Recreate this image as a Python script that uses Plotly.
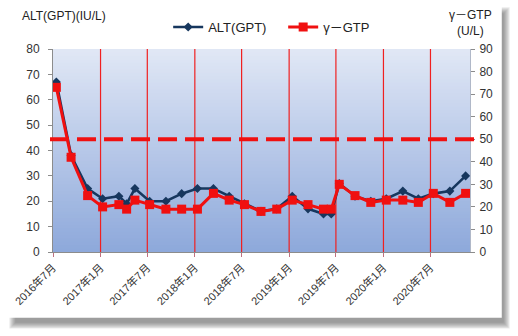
import plotly.graph_objects as go

# Measurement dates
dates = [
    "2016-07-14", "2016-09-09", "2016-11-12", "2017-01-09", "2017-03-13",
    "2017-04-12", "2017-05-14", "2017-07-10", "2017-09-11", "2017-11-11",
    "2018-01-11", "2018-03-14", "2018-05-14", "2018-07-12", "2018-09-14",
    "2018-11-14", "2019-01-13", "2019-03-15", "2019-05-14", "2019-06-13",
    "2019-07-14", "2019-09-13", "2019-11-13", "2020-01-12", "2020-03-16",
    "2020-05-15", "2020-07-12", "2020-09-14", "2020-11-14",
]
# ALT(GPT) IU/L  (left axis)
alt = [67, 38, 25, 21, 22, 19, 25, 20, 20, 23,
       25, 25, 22, 19, 16, 17, 22, 17, 15, 15,
       27, 22, 20, 21, 24, 21, 23, 24, 30]
# γ-GTP U/L  (right axis)
gtp = [73, 42, 25, 20, 21, 19, 23, 21, 19, 19,
       19, 26, 23, 21, 18, 19, 23, 21, 19, 19,
       30, 25, 22, 23, 23, 22, 26, 22, 26]
gtp_limit = 50

tick_dates = ["2016-07-01", "2017-01-01", "2017-07-01", "2018-01-01", "2018-07-01",
              "2019-01-01", "2019-07-01", "2020-01-01", "2020-07-01"]
tick_labels = ["2016年7月", "2017年1月", "2017年7月", "2018年1月", "2018年7月",
               "2019年1月", "2019年7月", "2020年1月", "2020年7月"]

FONT = "Liberation Sans, Arial, Noto Sans CJK JP, sans-serif"
W, H = 518, 336
L, R, T, B = 50, 48, 48, 84
PW, PH = W - L - R, H - T - B


def px_x(px):
    return (px - L) / PW


def px_y(py):
    return (H - B - py) / PH


fig = go.Figure()
fig.add_trace(go.Scatter(
    x=dates, y=alt, name="ALT(GPT)", mode="lines+markers",
    line=dict(color="#17375E", width=2.6),
    marker=dict(symbol="diamond", size=7, color="#17375E"),
))
fig.add_trace(go.Scatter(
    x=dates, y=gtp, name="γ－GTP", mode="lines+markers", yaxis="y2",
    line=dict(color="#F01010", width=3),
    marker=dict(symbol="square", size=9, color="#F01010"),
))

shapes = []
# card drop shadow
for k in range(7):
    shapes.append(dict(
        type="rect", xref="paper", yref="paper", layer="below",
        x0=px_x(6 + k), x1=px_x(510 - k), y0=px_y(329 - k), y1=px_y(6 + k),
        fillcolor="#505050", opacity=0.11, line=dict(width=0),
    ))
# white card
shapes.append(dict(
    type="rect", xref="paper", yref="paper", layer="below",
    x0=px_x(0), x1=px_x(502), y0=px_y(318), y1=px_y(0),
    fillcolor="white", line=dict(width=0),
))
# vertical gradient for the plot area
top_c = (224, 231, 245)
bot_c = (142, 169, 219)
N = 60
for i in range(N):
    t = i / (N - 1)
    c = tuple(round(top_c[j] + (bot_c[j] - top_c[j]) * t) for j in range(3))
    shapes.append(dict(
        type="rect", xref="paper", yref="paper", layer="below",
        x0=0, x1=1, y1=1 - i / N, y0=max(0, 1 - (i + 1.3) / N),
        fillcolor="rgb(%d,%d,%d)" % c, line=dict(width=0),
    ))
# red vertical lines at each half-year tick
for d in tick_dates[1:]:
    shapes.append(dict(
        type="line", xref="x", yref="paper", layer="below",
        x0=d, x1=d, y0=0, y1=1,
        line=dict(color="#F02020", width=1.2),
    ))
# γ-GTP reference limit
shapes.append(dict(
    type="line", xref="paper", yref="y2", layer="above",
    x0=px_x(47), x1=px_x(476), y0=gtp_limit, y1=gtp_limit,
    line=dict(color="#F01010", width=4, dash="19px,8px"),
))
fig.update_layout(shapes=shapes)

fig.update_layout(
    width=W, height=H,
    margin=dict(l=L, r=R, t=T, b=B),
    paper_bgcolor="white",
    plot_bgcolor="rgba(0,0,0,0)",
    font=dict(family=FONT, size=12, color="#333333"),
    showlegend=True,
    legend=dict(
        orientation="h", x=px_x(166), xanchor="left", y=px_y(26), yanchor="middle",
        font=dict(family=FONT, size=13, color="#222222"),
        bgcolor="rgba(0,0,0,0)", itemwidth=30, tracegroupgap=0,
        entrywidth=70, entrywidthmode="pixels",
    ),
    xaxis=dict(
        type="date", range=["2016-07-01", "2020-12-01"],
        tickmode="array", tickvals=tick_dates, ticktext=tick_labels,
        tickangle=-45, tickfont=dict(size=11, color="#333333"),
        showgrid=False,
        showline=True, linecolor="#8C8C8C", linewidth=1,
        ticks="outside", ticklen=4, tickcolor="#C07080",
        zeroline=False, fixedrange=True,
    ),
    yaxis=dict(
        range=[0, 80], dtick=10, showgrid=False, zeroline=False,
        showline=True, linecolor="#8C8C8C", linewidth=1,
        ticks="outside", ticklen=4, tickcolor="#8C8C8C",
        tickfont=dict(size=12, color="#333333"), ticklabelstandoff=6,
    ),
    yaxis2=dict(
        range=[0, 90], dtick=10, overlaying="y", side="right",
        showgrid=False, zeroline=False,
        showline=True, linecolor="#B0B8C8", linewidth=1,
        ticks="outside", ticklen=4, tickcolor="#8C8C8C",
        tickfont=dict(size=12, color="#333333"), ticklabelstandoff=2,
    ),
    annotations=[
        dict(text="ALT(GPT)(IU/L)", xref="paper", yref="paper",
             x=px_x(17), y=px_y(15), xanchor="left", yanchor="middle",
             showarrow=False, font=dict(size=12, color="#222222")),
        dict(text="γ－GTP<br>(U/L)", xref="paper", yref="paper",
             x=px_x(470), y=px_y(22), xanchor="center", yanchor="middle",
             showarrow=False, align="center",
             font=dict(size=12, color="#222222")),
    ],
)

fig.write_html("out.html")
